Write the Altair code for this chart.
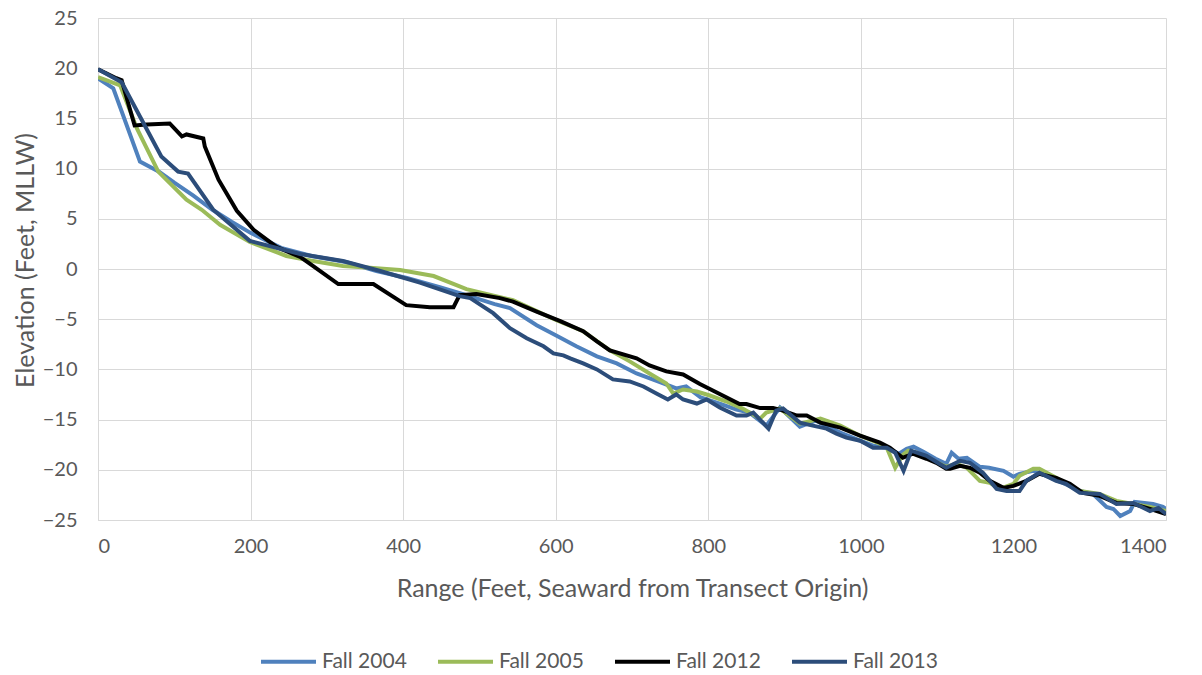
import altair as alt
import pandas as pd

# ---- data ----
x_2004 = [0, 20, 55, 80, 100, 125, 150, 175, 200, 240, 280, 325, 365, 405, 448, 483, 520, 540,
          575, 600, 627, 654, 680, 706, 741, 758, 771, 790, 815, 837, 854, 876, 894, 920, 941,
          973, 999, 1016, 1034, 1050, 1060, 1069, 1082, 1098, 1112, 1119, 1128, 1139, 1156,
          1168, 1187, 1200, 1208, 1226, 1243, 1265, 1287, 1304, 1322, 1331, 1340, 1353, 1359,
          1383, 1396, 1400]
y_2004 = [19.0, 18.0, 10.7, 9.7, 8.6, 7.3, 5.9, 4.7, 3.6, 2.1, 1.3, 0.7, -0.2, -0.9, -1.8, -2.6,
          -3.5, -3.9, -5.6, -6.6, -7.7, -8.7, -9.4, -10.4, -11.4, -11.9, -11.7, -12.8, -13.4,
          -14.0, -14.3, -15.6, -13.8, -15.7, -15.1, -16.3, -17.1, -17.6, -17.8, -18.4, -17.9,
          -17.7, -18.2, -18.9, -19.4, -18.3, -18.9, -18.8, -19.7, -19.8, -20.1, -20.7, -20.4,
          -20.1, -20.6, -21.3, -22.1, -22.4, -23.7, -23.9, -24.6, -24.1, -23.2, -23.4, -23.7,
          -23.9]

x_2005 = [0, 29, 51, 79, 116, 136, 160, 199, 247, 282, 321, 352, 396, 440, 483, 527, 544, 575,
          601, 636, 671, 697, 723, 745, 754, 767, 785, 802, 824, 845, 854, 868, 876, 894, 920,
          947, 973, 999, 1025, 1034, 1045, 1055, 1062, 1073, 1095, 1112, 1125, 1139, 1156, 1169,
          1182, 1200, 1208, 1226, 1234, 1256, 1287, 1313, 1335, 1357, 1379, 1400]
y_2005 = [19.1, 18.3, 14.0, 9.7, 6.9, 5.9, 4.4, 2.7, 1.3, 0.8, 0.3, 0.15, -0.1, -0.7, -2.0, -2.8,
          -3.1, -4.2, -5.1, -6.2, -8.1, -9.2, -10.4, -11.4, -12.4, -12.0, -12.2, -12.6, -13.2,
          -13.9, -14.3, -14.9, -14.3, -13.9, -15.4, -14.9, -15.6, -16.6, -17.4, -17.8, -19.8,
          -18.5, -18.1, -18.3, -19.1, -19.7, -19.4, -19.8, -21.1, -21.3, -21.9, -21.4, -20.6,
          -19.9, -19.9, -20.8, -22.1, -22.4, -23.1, -23.4, -23.7, -24.1]

x_2012 = [0, 24, 31, 48, 64, 94, 110, 116, 138, 140, 158, 182, 204, 234, 265, 278, 315, 361,
          404, 435, 466, 474, 496, 527, 544, 575, 606, 636, 654, 671, 706, 723, 745, 767, 789,
          815, 841, 850, 868, 885, 898, 916, 929, 947, 973, 999, 1025, 1038, 1055, 1068, 1086,
          1099, 1112, 1117, 1130, 1143, 1156, 1169, 1187, 1200, 1217, 1234, 1256, 1274, 1291,
          1313, 1335, 1357, 1379, 1400]
y_2012 = [19.9, 19.0, 18.8, 14.3, 14.4, 14.5, 13.2, 13.4, 13.0, 12.2, 8.9, 5.8, 3.9, 2.2, 1.2,
          0.5, -1.5, -1.5, -3.6, -3.8, -3.8, -2.6, -2.5, -2.9, -3.25, -4.25, -5.2, -6.2, -7.2,
          -8.1, -8.9, -9.6, -10.2, -10.5, -11.45, -12.45, -13.45, -13.45, -13.85, -13.85, -14.1,
          -14.6, -14.6, -15.3, -15.8, -16.6, -17.3, -17.8, -18.8, -18.4, -18.9, -19.3, -19.9,
          -19.9, -19.6, -19.8, -20.3, -21.1, -21.8, -21.6, -21.1, -20.4, -20.8, -21.4, -22.3,
          -22.6, -23.3, -23.4, -23.9, -24.4]

x_2013 = [0, 31, 83, 105, 118, 151, 199, 265, 321, 370, 422, 474, 488, 518, 540, 562, 584, 597,
          610, 619, 636, 654, 675, 697, 715, 732, 747, 758, 767, 785, 798, 815, 837, 850, 859,
          879, 889, 898, 920, 937, 955, 968, 981, 999, 1016, 1034, 1045, 1056, 1066, 1086, 1103,
          1112, 1130, 1143, 1160, 1178, 1191, 1208, 1217, 1234, 1256, 1269, 1287, 1313, 1335,
          1357, 1379, 1390, 1400]
y_2013 = [19.9, 18.6, 11.2, 9.7, 9.5, 5.9, 2.8, 1.5, 0.8, -0.2, -1.35, -2.7, -2.9, -4.4, -5.9,
          -6.9, -7.7, -8.4, -8.6, -8.9, -9.4, -10.0, -11.0, -11.2, -11.7, -12.4, -13.0, -12.5,
          -13.0, -13.4, -13.0, -13.8, -14.6, -14.6, -14.3, -15.9, -14.1, -13.9, -15.3, -15.6,
          -15.9, -16.4, -16.8, -17.1, -17.8, -17.8, -18.3, -20.1, -18.1, -18.6, -19.4, -19.8,
          -19.1, -19.3, -20.3, -21.9, -22.1, -22.1, -21.1, -20.3, -21.1, -21.4, -22.3, -22.4,
          -23.4, -23.3, -24.1, -23.8, -24.4]

series_names = ["Fall 2004", "Fall 2005", "Fall 2012", "Fall 2013"]
series_colors = ["#4F81BD", "#9BBB59", "#000000", "#2C4D7A"]
x_ticks = [0, 200, 400, 600, 800, 1000, 1200, 1400]
y_ticks = [-25, -20, -15, -10, -5, 0, 5, 10, 15, 20, 25]

rows = []
for name, xs, ys in zip(series_names, [x_2004, x_2005, x_2012, x_2013],
                        [y_2004, y_2005, y_2012, y_2013]):
    for i, (a, b) in enumerate(zip(xs, ys)):
        rows.append({"series": name, "range": a, "elev": b, "idx": i})
df = pd.DataFrame(rows)

FONT = "Lato"
GRAY = "#595959"

chart = (
    alt.Chart(df)
    .mark_line(strokeWidth=4, clip=True)
    .encode(
        x=alt.X("range:Q",
                scale=alt.Scale(domain=[0, 1400], nice=False, zero=False),
                axis=alt.Axis(values=x_ticks, format="d",
                              title="Range (Feet, Seaward from Transect Origin)",
                              labelPadding=16, titlePadding=20)),
        y=alt.Y("elev:Q",
                scale=alt.Scale(domain=[-25, 25], nice=False, zero=False),
                axis=alt.Axis(values=y_ticks, title="Elevation (Feet, MLLW)",
                              labelPadding=21, titlePadding=4, titleY=242)),
        color=alt.Color("series:N",
                        scale=alt.Scale(domain=series_names, range=series_colors),
                        legend=alt.Legend(title=None, orient="none", direction="horizontal",
                                          legendX=161, legendY=614,
                                          symbolType="stroke", symbolSize=3025,
                                          symbolStrokeWidth=4, labelOffset=4,
                                          columnPadding=23, labelFontSize=21,
                                          labelFont=FONT, labelColor=GRAY)),
        order=alt.Order("idx:Q"),
    )
    .properties(
        width=1068,
        height=502,
        autosize=alt.AutoSizeParams(type="none"),
        padding={"left": 90, "top": 10, "right": 28, "bottom": 155},
    )
    .configure_axis(
        labelFont=FONT, labelFontSize=20, labelColor=GRAY,
        titleFont=FONT, titleFontSize=25, titleColor=GRAY, titleFontWeight="normal",
        gridColor="#D9D9D9", gridWidth=1, domainColor="#D9D9D9", ticks=False,
    )
    .configure_view(stroke=None)
)

chart.save("out.html", embed_options={"renderer": "svg", "actions": False})
